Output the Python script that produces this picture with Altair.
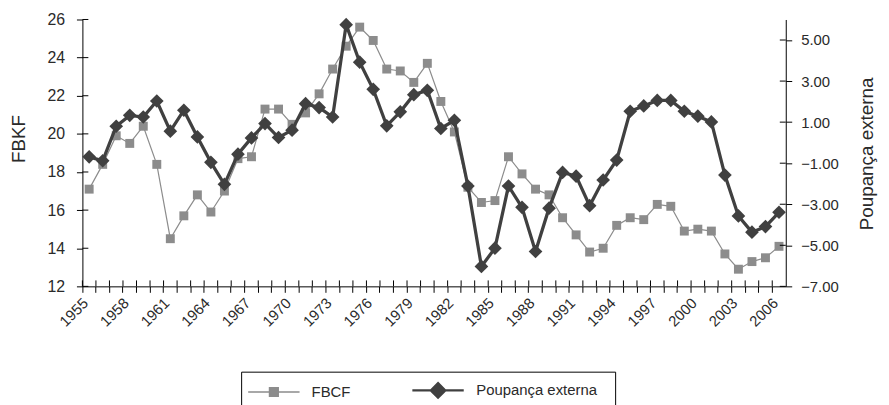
import altair as alt
import pandas as pd

years = list(range(1955, 2007))
fbcf = [17.1, 18.4, 19.9, 19.5, 20.4, 18.4, 14.5, 15.7, 16.8, 15.9,
        17.0, 18.7, 18.8, 21.3, 21.3, 20.5, 21.1, 22.1, 23.4, 24.6,
        25.6, 24.9, 23.4, 23.3, 22.7, 23.7, 21.7, 20.1, 17.2, 16.4,
        16.5, 18.8, 17.9, 17.1, 16.8, 15.6, 14.7, 13.8, 14.0, 15.2,
        15.6, 15.5, 16.3, 16.2, 14.9, 15.0, 14.9, 13.7, 12.9, 13.3,
        13.5, 14.1]
poupanca = [-0.69, -0.88, 0.80, 1.33, 1.25, 2.03, 0.56, 1.58, 0.28, -0.96,
            -2.03, -0.56, 0.23, 0.93, 0.25, 0.61, 1.90, 1.71, 1.25, 5.75,
            3.92, 2.60, 0.82, 1.50, 2.34, 2.55, 0.69, 1.09, -2.11, -6.03,
            -5.14, -2.11, -3.15, -5.30, -3.19, -1.45, -1.63, -3.07, -1.82, -0.85,
            1.53, 1.79, 2.06, 2.06, 1.53, 1.29, 1.01, -1.58, -3.57, -4.36,
            -4.09, -3.39]
left_ticks = [12, 14, 16, 18, 20, 22, 24, 26]
right_ticks = [-7, -5, -3, -1, 1, 3, 5]
series = ["FBCF", "Poupança externa"]

df = pd.DataFrame({"year": years, "fbcf": fbcf, "pe": poupanca})
lt = pd.DataFrame({"t": left_ticks})
rt = pd.DataFrame({"t": right_ticks})
leg = pd.DataFrame({"serie": series})

W, H = 709, 269
FONT = "Liberation Sans"
GRAY = "#8c8c8c"
DARK = "#404040"
TXT = "#2a2a2a"

xscale = alt.Scale(type="band", paddingInner=0, paddingOuter=0)
xaxis = alt.Axis(title=None, bandPosition=0, labelAngle=315, labelOffset=-8.5,
                 labelExpr="(datum.value - 1955) % 3 == 0 ? datum.label : ''",
                 labelOverlap=False, tickSize=6, labelPadding=3,
                 labelFontSize=15, labelFont=FONT, labelColor=TXT,
                 domainColor="black", tickColor="black", grid=False)


def X(**kw):
    return alt.X("year:O", scale=xscale, axis=xaxis, **kw)


yl_scale = alt.Scale(domain=[12, 26], nice=False, zero=False)
yl_axis = alt.Axis(title="FBKF", orient="left", values=left_ticks, tickSize=6,
                   labelPadding=12, labelFontSize=16, labelFont=FONT, labelColor=TXT,
                   titleFont=FONT, titleFontSize=19, titleFontWeight="normal",
                   titleColor=TXT, titleX=-54, titleY=120, titleBaseline="bottom",
                   domainColor="black", tickColor="black", grid=False)
yr_scale = alt.Scale(domain=[-7, 6], nice=False, zero=False)
yr_axis = alt.Axis(title="Poupança externa", orient="right", values=right_ticks,
                   format=".2f", tickSize=6, labelPadding=9, labelFontSize=15,
                   labelFont=FONT, labelColor=TXT, titleFont=FONT, titleFontSize=19,
                   titleFontWeight="normal", titleColor=TXT, titleAngle=270,
                   titleBaseline="top", titleX=72, titleY=135, domainColor="black",
                   tickColor="black", grid=False)

base = alt.Chart(df)
lineA = base.mark_line(color=GRAY, strokeWidth=1.2).encode(
    x=X(), y=alt.Y("fbcf:Q", scale=yl_scale, axis=yl_axis))
ptsA = base.mark_point(shape="square", filled=True, size=81, color=GRAY, opacity=1).encode(
    x=X(), y=alt.Y("fbcf:Q", scale=yl_scale, axis=yl_axis))
ruleL = alt.Chart(lt).mark_rule(color="black").encode(
    y=alt.Y("t:Q", scale=yl_scale, axis=yl_axis), x=alt.value(0), x2=alt.value(6))
ruleX = base.mark_rule(color="black").encode(
    x=X(bandPosition=0), y=alt.value(H - 6), y2=alt.value(H))
layerA = alt.layer(lineA, ptsA, ruleL, ruleX)

lineB = base.mark_line(color=DARK, strokeWidth=3.3).encode(
    x=X(), y=alt.Y("pe:Q", scale=yr_scale, axis=yr_axis))
ptsB = base.mark_point(shape="diamond", filled=True, size=190, color=DARK, opacity=1).encode(
    x=X(), y=alt.Y("pe:Q", scale=yr_scale, axis=yr_axis))
ruleR = alt.Chart(rt).mark_rule(color="black").encode(
    y=alt.Y("t:Q", scale=yr_scale, axis=yr_axis), x=alt.value(W - 6), x2=alt.value(W))
layerB = alt.layer(lineB, ptsB, ruleR)

sq = "M-3.7,0H3.7M-0.64,-0.64H0.64V0.64H-0.64Z"
dm = "M-3.7,0H3.7M0,-1.05L1.05,0L0,1.05L-1.05,0Z"
legend = alt.Legend(title="\u00a0", titleOrient="right", titlePadding=8, titleFontSize=6,
                    orient="none", legendX=160, legendY=355,
                    direction="horizontal", strokeColor="black", fillColor="white",
                    padding=10, symbolSize=196, symbolOffset=15, labelOffset=30,
                    columnPadding=57, labelFont=FONT, labelFontSize=15, labelColor=TXT)
legL = alt.Chart(leg).mark_point(filled=True, opacity=1).encode(
    shape=alt.Shape("serie:N", scale=alt.Scale(domain=series, range=[sq, dm]), legend=legend),
    fill=alt.Fill("serie:N", scale=alt.Scale(domain=series, range=[GRAY, DARK]), legend=legend),
    stroke=alt.Stroke("serie:N", scale=alt.Scale(domain=series, range=[GRAY, DARK]), legend=legend),
    strokeWidth=alt.StrokeWidth("serie:N", scale=alt.Scale(domain=series, range=[1.3, 2.2]), legend=legend),
).transform_filter("datum.serie == 'none'")

chart = alt.layer(layerA, layerB, legL).resolve_scale(y="independent").properties(
    width=W, height=H,
    autosize=alt.AutoSizeParams(type="none"),
    padding={"left": 75, "top": 10, "right": 96, "bottom": 118},
).configure_view(stroke=None)

chart.save("out.html", embed_options={"renderer": "svg", "actions": False})
